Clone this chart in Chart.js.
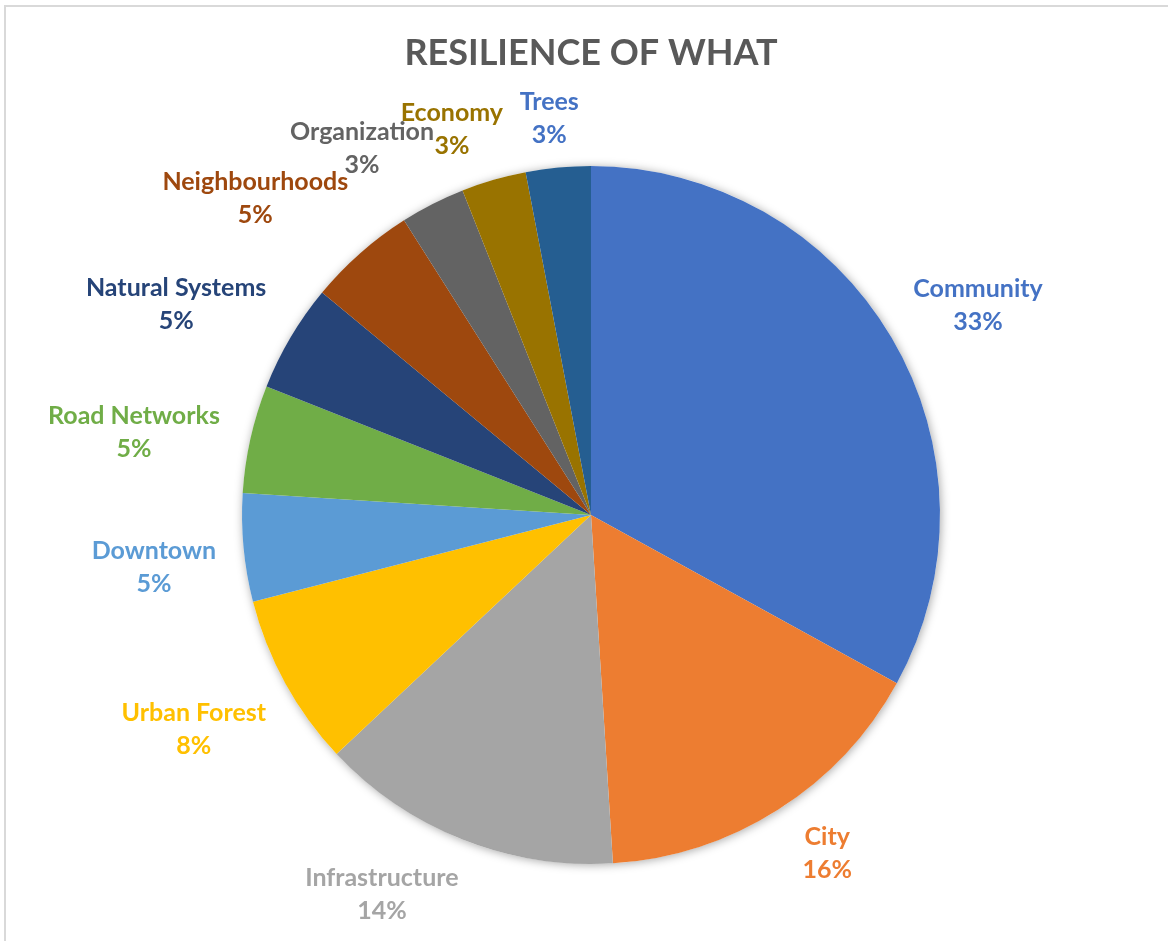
<!DOCTYPE html>
<html>
<head>
<meta charset="utf-8">
<title>Resilience of what</title>
<script src="https://cdn.jsdelivr.net/npm/chart.js@4.4.1/dist/chart.umd.min.js"></script>
<style>
  html, body { margin: 0; padding: 0; background: #fff; }
  #wrap { position: relative; width: 1168px; height: 941px; overflow: hidden; }
  #frame {
    position: absolute; left: 4px; top: 5px; width: 1200px; height: 1000px;
    border-top: 2px solid #d9d9d9; border-left: 2px solid #d9d9d9;
  }
  #resilienceChart { position: absolute; left: 0; top: 0; }
</style>
</head>
<body>
<div id="wrap">
  <div id="frame"></div>
  <canvas id="resilienceChart" width="1168" height="941"></canvas>
</div>
<script>
// share of answers per theme (%)
const categories = [
  'Community', 'City', 'Infrastructure', 'Urban Forest', 'Downtown',
  'Road Networks', 'Natural Systems', 'Neighbourhoods', 'Organization',
  'Economy', 'Trees'
];
const shares = [33, 16, 14, 8, 5, 5, 5, 5, 3, 3, 3];

const sliceColors = [
  '#4472C4', '#ED7D31', '#A5A5A5', '#FFC000', '#5B9BD5',
  '#70AD47', '#264478', '#9E480E', '#636363', '#997300', '#255E91'
];
const labelColors = [
  '#4472C4', '#ED7D31', '#A5A5A5', '#FFC000', '#5B9BD5',
  '#70AD47', '#264478', '#9E480E', '#636363', '#997300', '#4472C4'
];

const labelFont = 'bold 25px Lato';
const labelLine = 33;
const labelGap = 17;

// hand tweaks so crowded labels don't collide (px)
const labelNudge = {
  'Community': [24, -15],
  'City': [33, 6],
  'Infrastructure': [-64, 11],
  'Urban Forest': [-21, 30],
  'Downtown': [-11, 18],
  'Road Networks': [-18, -1],
  'Natural Systems': [-33, -16],
  'Neighbourhoods': [-53, -23],
  'Organization': [-48, -14],
  'Economy': [-33, -4],
  'Trees': [-7, 1]
};

// soft shadow under the whole pie
const pieShadow = {
  id: 'pieShadow',
  beforeDatasetsDraw(chart) {
    const arc = chart.getDatasetMeta(0).data[0];
    if (!arc) return;
    const ctx = chart.ctx;
    ctx.save();
    ctx.shadowColor = 'rgba(0,0,0,0.35)';
    ctx.shadowBlur = 10;
    ctx.shadowOffsetX = 1;
    ctx.shadowOffsetY = 1;
    ctx.fillStyle = '#fff';
    ctx.beginPath();
    ctx.arc(arc.x, arc.y, arc.outerRadius, 0, Math.PI * 2);
    ctx.fill();
    ctx.restore();
  }
};

// two-line labels (name + percent) outside each slice
const outsideLabels = {
  id: 'outsideLabels',
  afterDatasetsDraw(chart) {
    const ctx = chart.ctx;
    const arcs = chart.getDatasetMeta(0).data;
    ctx.save();
    ctx.font = labelFont;
    ctx.textAlign = 'center';
    ctx.textBaseline = 'middle';
    arcs.forEach((arc, i) => {
      const mid = (arc.startAngle + arc.endAngle) / 2;
      const lines = [categories[i], shares[i] + '%'];
      const w = Math.max(...lines.map(t => ctx.measureText(t).width));
      const h = labelLine * lines.length;
      const r = arc.outerRadius + labelGap;
      const nudge = labelNudge[categories[i]] || [0, 0];
      const cx = arc.x + Math.cos(mid) * (r + w / 2 * Math.abs(Math.cos(mid))) + nudge[0];
      const cy = arc.y + Math.sin(mid) * (r + h / 2 * Math.abs(Math.sin(mid))) + nudge[1];
      ctx.fillStyle = labelColors[i];
      lines.forEach((t, k) => {
        ctx.fillText(t, cx, cy - h / 2 + labelLine * (k + 0.5));
      });
    });
    ctx.restore();
  }
};

new Chart(document.getElementById('resilienceChart'), {
  type: 'pie',
  data: {
    labels: categories,
    datasets: [{
      data: shares,
      backgroundColor: sliceColors,
      borderWidth: 0,
      hoverOffset: 0
    }]
  },
  options: {
    responsive: false,
    devicePixelRatio: 1,
    animation: false,
    layout: {
      padding: { top: 10, bottom: 77, left: 242, right: 228 }
    },
    plugins: {
      legend: { display: false },
      tooltip: { enabled: false },
      title: {
        display: true,
        text: 'RESILIENCE OF WHAT',
        color: '#595959',
        font: { family: 'Lato', size: 36, weight: 'bold', lineHeight: 1.2 },
        padding: { top: 22, bottom: 90.8 }
      }
    }
  },
  plugins: [pieShadow, outsideLabels]
});
</script>
</body>
</html>
